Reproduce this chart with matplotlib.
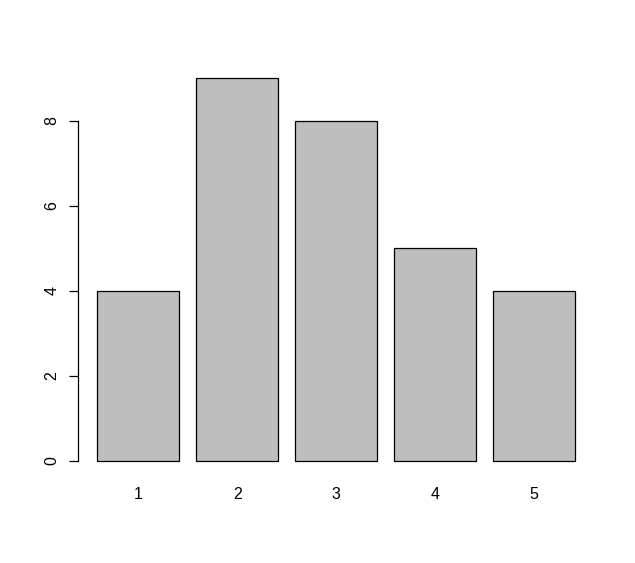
import matplotlib
matplotlib.use("Agg")
import matplotlib.pyplot as plt

plt.rcParams["font.family"] = ["Liberation Sans", "DejaVu Sans"]

categories = ["1", "2", "3", "4", "5"]
values = [4, 9, 8, 5, 4]
yticks = [0, 2, 4, 6, 8]

W, H = 635, 563
fig = plt.figure(figsize=(W / 100, H / 100), dpi=100)
ax = fig.add_axes([78 / W, (H - 480.3) / H, (594 - 78) / W, (480.3 - 63) / H])

centers = [0.7 + 1.2 * i for i in range(len(categories))]
ax.bar(centers, values, width=1.0, color="#BEBEBE", edgecolor="black", linewidth=0.9)

ax.set_xlim(-0.032, 6.232)
ax.set_ylim(-0.4536, 9.3636)

for s in ["top", "right", "bottom"]:
    ax.spines[s].set_visible(False)
ax.spines["left"].set_bounds(0, 8)
ax.spines["left"].set_linewidth(0.9)

ax.set_yticks(yticks)
ax.set_yticklabels([str(v) for v in yticks], rotation=90, va="center", fontsize=11.5)
ax.tick_params(axis="y", length=6.5, width=0.9, pad=7)

ax.set_xticks(centers)
ax.set_xticklabels(categories, fontsize=11.5)
ax.tick_params(axis="x", length=0, pad=4.5)

fig.savefig("out.png", dpi=100)
